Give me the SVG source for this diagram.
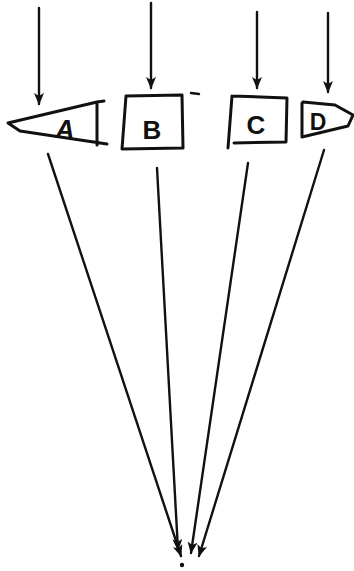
<svg xmlns="http://www.w3.org/2000/svg" width="354" height="571" viewBox="0 0 354 571">
<defs>
<style>
.e{fill:none;stroke:#111;stroke-width:2.4;stroke-linecap:round}
.s{fill:none;stroke:#111;stroke-width:3;stroke-linejoin:round;stroke-linecap:round}
.t{font-family:"Liberation Sans",Arial,sans-serif;font-size:26px;font-weight:bold;fill:#111;text-anchor:middle}
</style>
<marker id="ah" viewBox="0 0 12 10" refX="11" refY="5" markerWidth="13" markerHeight="10" markerUnits="userSpaceOnUse" orient="auto">
<path d="M0,0 L12,5 L0,10 L3,5 Z" fill="#111"/>
</marker>
</defs>
<rect width="354" height="571" fill="#fff"/>
<g id="connectors">
<line class="e" x1="39" y1="8" x2="39" y2="104" marker-end="url(#ah)"/>
<line class="e" x1="151" y1="3" x2="151" y2="88" marker-end="url(#ah)"/>
<line class="e" x1="257" y1="12" x2="257" y2="88" marker-end="url(#ah)"/>
<line class="e" x1="328" y1="13" x2="328" y2="92" marker-end="url(#ah)"/>
<line class="e" x1="48" y1="154" x2="181" y2="556" marker-end="url(#ah)"/>
<line class="e" x1="157" y1="168" x2="178" y2="550" marker-end="url(#ah)"/>
<line class="e" x1="248" y1="163" x2="191" y2="553" marker-end="url(#ah)"/>
<line class="e" x1="324" y1="150" x2="199" y2="556" marker-end="url(#ah)"/>
<circle cx="182" cy="565" r="2.2" fill="#111"/>
</g>
<g id="nodeA">
<path class="s" d="M104,101 L97,102 L8,123 L20,131 L107,144 M97,102 L97,145"/>
<text class="t" x="65" y="138" style="font-style:italic">A</text>
</g>
<g id="nodeB">
<path class="s" d="M126,96 L182,95 L183,148 L122,149 L126,96"/>
<line class="e" x1="191" y1="93" x2="199" y2="94"/>
<text class="t" x="152" y="139">B</text>
</g>
<g id="nodeC">
<path class="s" d="M232,96 L287,98 L286,142 L234,143 M232,96 L228,148"/>
<text class="t" x="256" y="134">C</text>
</g>
<g id="nodeD">
<path class="s" d="M302,103 L302,137 L348,126 L353,115 L335,105 L303,102"/>
<text class="t" x="318" y="130" style="font-size:23px">D</text>
</g>
</svg>
